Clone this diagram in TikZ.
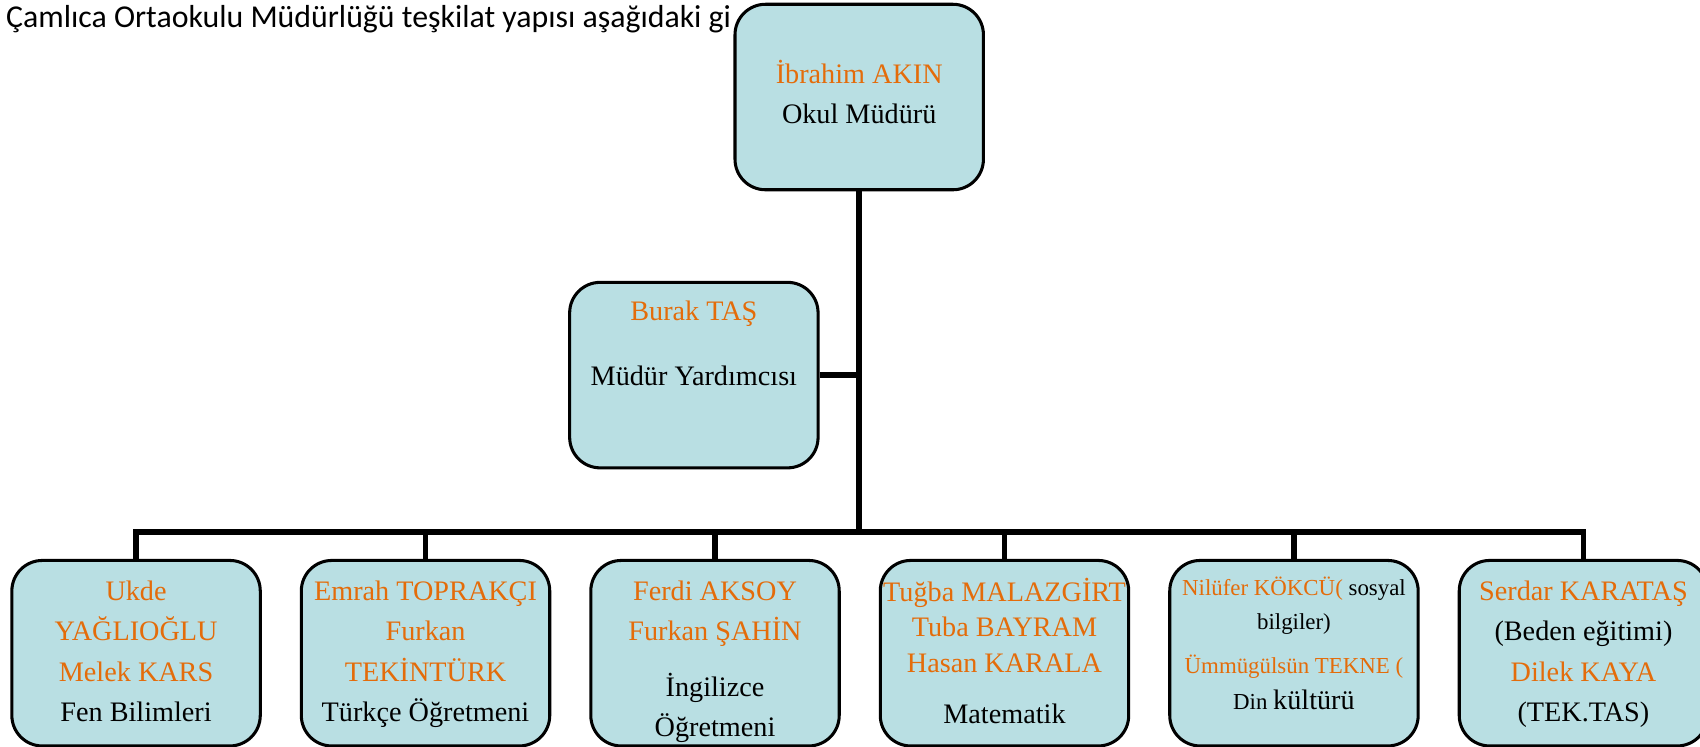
\documentclass[tikz,border=0pt]{standalone}
\usepackage{fontspec}
\setmainfont{Liberation Serif}
\newfontfamily\baslikfont{Carlito}
\usetikzlibrary{calc}
\usetikzlibrary{positioning}
\definecolor{kutumavi}{RGB}{185,223,227}
\definecolor{isim}{RGB}{228,108,10}
\newcommand{\nm}[1]{\textcolor{isim}{#1}}
\newcommand{\kutuyazi}[2][10.5]{\fontsize{#2}{#1}\selectfont}

\begin{document}
\begin{tikzpicture}[x=0.01cm, y=-0.01cm,
        kutu/.style={rectangle, rounded corners=8pt, draw=black, line width=0.8pt, fill=kutumavi, minimum width=2.29cm, minimum height=1.71cm},
        yazi/.style={align=center, anchor=north, inner sep=0pt},
        hat/.style={line width=1.5pt}]
            \useasboundingbox (0, 0) rectangle (1568, 689);
            \node[anchor=base west, inner sep=0pt, font=\baslikfont\fontsize{8.35}{10}\selectfont] (baslik) at (5, 25) {Çamlıca Ortaokulu Müdürlüğü teşkilat yapısı aşağıdaki gi};
            \node[kutu] (mudur) at (792.5, 89.5) {};
            \node[yazi, font=\kutuyazi{7.4}] at ($(mudur.north) + (0, 52)$) {\nm{İbrahim AKIN}\\Okul Müdürü};
            \node[kutu] (yardimci) at (640, 346) {};
            \node[yazi, font=\kutuyazi{7.4}] at ($(yardimci.north) + (0, 18)$) {\nm{Burak TAŞ}\\[6.5pt]Müdür Yardımcısı};
            \coordinate (bus) at (792.5, 491);
            \draw[hat] (mudur.south) -- (mudur.south |- bus);
            \draw[hat] (yardimci.east) -- (yardimci.east -| mudur.south);
            \foreach \fs/\dy/\t[count=\i from 0] in {
                7.4/20/{\nm{Ukde}\\\nm{YAĞLIOĞLU}\\\nm{Melek KARS}\\Fen Bilimleri},
                7.4/20/{\nm{Emrah TOPRAKÇI}\\\nm{Furkan}\\\nm{TEKİNTÜRK}\\Türkçe Öğretmeni},
                7.4/20/{\nm{Ferdi AKSOY}\\\nm{Furkan ŞAHİN}\\[4pt]İngilizce\\Öğretmeni},
                7.4/17/{\nm{Tuğba MALAZGİRT}\\[-1.2pt]\nm{Tuba BAYRAM}\\[-1.2pt]\nm{Hasan KARALA}\\[3pt]Matematik},
                6/16/{\nm{Nilüfer KÖKCÜ(} sosyal\\[-1.5pt]bilgiler)\\[1pt]\nm{Ümmügülsün TEKNE (}\\[-1pt]Din {\kutuyazi{7.4}kültürü}},
                7.4/20/{\nm{Serdar KARATAŞ}\\(Beden eğitimi)\\\nm{Dilek KAYA}\\(TEK.TAS)}}
            {
                \node[kutu] (ogretmen\i) at (125.5 + 267*\i, 602.5) {};
                \node[yazi, font=\kutuyazi{\fs}] at ($(ogretmen\i.north) + (0, \dy)$) {\t};
                \draw[hat] (ogretmen\i.north) |- (bus);
            }
        \end{tikzpicture}
\end{document}
